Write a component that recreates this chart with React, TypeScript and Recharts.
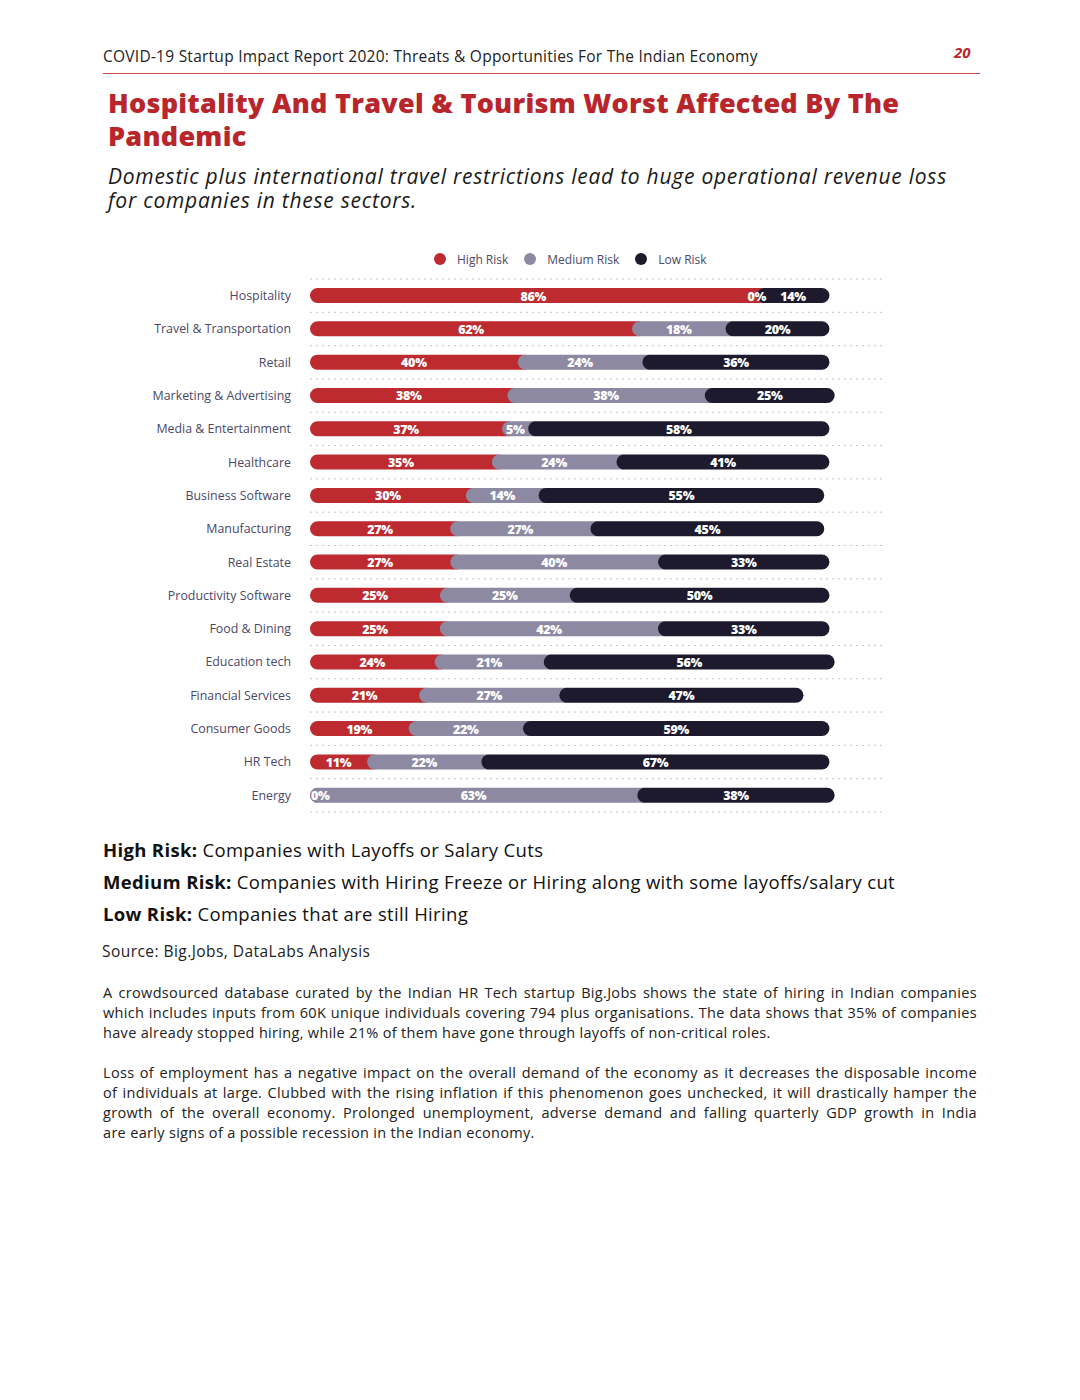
import React from 'react';
import { BarChart, Bar, XAxis, YAxis, CartesianGrid, Legend, LabelList } from 'recharts';

const categories = [
  'Hospitality', 'Travel & Transportation', 'Retail', 'Marketing & Advertising',
  'Media & Entertainment', 'Healthcare', 'Business Software', 'Manufacturing',
  'Real Estate', 'Productivity Software', 'Food & Dining', 'Education tech',
  'Financial Services', 'Consumer Goods', 'HR Tech', 'Energy',
];
const highRisk = [86, 62, 40, 38, 37, 35, 30, 27, 27, 25, 25, 24, 21, 19, 11, 0];
const mediumRisk = [0, 18, 24, 38, 5, 24, 14, 27, 40, 25, 42, 21, 27, 22, 22, 63];
const lowRisk = [14, 20, 36, 25, 58, 41, 55, 45, 33, 50, 33, 56, 47, 59, 67, 38];

const seriesNames = ['High Risk', 'Medium Risk', 'Low Risk'];
const seriesColors = ['#bd2a2f', '#8e89a2', '#1c1a2c'];

const data = categories.map((name, i) => ({
  name,
  high: highRisk[i],
  medium: mediumRisk[i],
  low: lowRisk[i],
}));

const FONT = '"Open Sans", Lato, sans-serif';

const makeShape = (isLast: boolean) => (props: any) => {
  const { x, y, width, height, fill } = props;
  if (x == null || y == null || height == null) return null;
  const r = height / 2;
  const L = x;
  if (isLast) {
    let R = x + (width || 0);
    if (R < L + 2 * r) R = L + 2 * r;
    const d = `M${L + r},${y} H${R - r} A${r},${r} 0 0 1 ${R - r},${y + height} H${L + r} A${r},${r} 0 0 1 ${L + r},${y} Z`;
    return <path d={d} fill={fill} />;
  }
  let R = x + (width || 0) + r;
  if (R < L + r) R = L + r;
  const d = `M${L + r},${y} H${R} V${y + height} H${L + r} A${r},${r} 0 0 1 ${L + r},${y} Z`;
  return <path d={d} fill={fill} />;
};

const makeLabel = (isFirst: boolean) => (props: any) => {
  const { x, y, width, height, value } = props;
  if (x == null) return null;
  const w = width || 0;
  const atStart = isFirst && w < 20;
  return (
    <text
      x={atStart ? x + 1 : x + w / 2}
      y={y + height / 2 + 0.5}
      fill="#ffffff"
      fontSize={12.5}
      fontWeight={800}
      fontFamily={FONT}
      textAnchor={atStart ? 'start' : 'middle'}
      dominantBaseline="central"
      letterSpacing={-0.3}
    >
      {`${value}%`}
    </text>
  );
};

const renderLegend = (props: any) => {
  const payload = [...(props.payload || [])].sort(
    (a: any, b: any) => seriesNames.indexOf(a.value) - seriesNames.indexOf(b.value)
  );
  return (
    <div style={{ height: 30, display: 'flex', alignItems: 'flex-start', paddingLeft: 334, fontFamily: FONT }}>
      {payload.map((p: any, i: number) => (
        <div key={i} style={{ display: 'flex', alignItems: 'center', height: 20, marginRight: 16 }}>
          <span style={{ display: 'inline-block', width: 12, height: 12, borderRadius: 6, background: p.color, marginRight: 11 }} />
          <span style={{ fontSize: 12, color: '#4b4867' }}>{p.value}</span>
        </div>
      ))}
    </div>
  );
};

const gridGenerator = (props: any) => {
  const { offset } = props;
  const n = categories.length;
  const out: number[] = [];
  for (let i = 0; i <= n; i++) out.push(offset.top + (i * offset.height) / n);
  return out;
};

const p1 = [
  'A crowdsourced database curated by the Indian HR Tech startup Big.Jobs shows the state of hiring in Indian companies',
  'which includes inputs from 60K unique individuals covering 794 plus organisations. The data shows that 35% of companies',
  'have already stopped hiring, while 21% of them have gone through layoffs of non-critical roles.',
];
const p2 = [
  'Loss of employment has a negative impact on the overall demand of the economy as it decreases the disposable income',
  'of individuals at large. Clubbed with the rising inflation if this phenomenon goes unchecked, it will drastically hamper the',
  'growth of the overall economy. Prolonged unemployment, adverse demand and falling quarterly GDP growth in India',
  'are early signs of a possible recession in the Indian economy.',
];

const Para = ({ lines, top }: { lines: string[]; top: number }) => (
  <div style={{ position: 'absolute', left: 103, top, width: 874, fontSize: 14.5, lineHeight: '20px', color: '#222', fontFamily: FONT, letterSpacing: 0.32 }}>
    {lines.map((l, i) => (
      <div
        key={i}
        style={{
          whiteSpace: 'nowrap',
          textAlign: i < lines.length - 1 ? 'justify' : 'left',
          textAlignLast: i < lines.length - 1 ? 'justify' : 'left',
        } as any}
      >
        {l}
      </div>
    ))}
  </div>
);

export default function App() {
  return (
    <div style={{ position: 'absolute', left: 0, top: 0, width: 1080, height: 1400, background: '#fff', fontFamily: FONT, color: '#222' }}>
      <div style={{ position: 'absolute', left: 103, top: 46, fontSize: 15.5, lineHeight: '20px', whiteSpace: 'nowrap', letterSpacing: 0.25 }}>
        COVID-19 Startup Impact Report 2020: Threats &amp; Opportunities For The Indian Economy
      </div>
      <div style={{ position: 'absolute', left: 954, top: 42, fontSize: 15, lineHeight: '20px', fontStyle: 'italic', fontWeight: 700, color: '#b8262c' }}>
        20
      </div>
      <div style={{ position: 'absolute', left: 103, top: 73, width: 877, height: 1, background: '#c8484c' }} />
      <div style={{ position: 'absolute', left: 108, top: 86, fontSize: 27, lineHeight: '33px', fontWeight: 800, color: '#b8262c', whiteSpace: 'nowrap', letterSpacing: 0.27 }}>
        <div>Hospitality And Travel &amp; Tourism Worst Affected By The</div>
        <div>Pandemic</div>
      </div>
      <div style={{ position: 'absolute', left: 108, top: 164, fontSize: 21, lineHeight: '24px', fontStyle: 'italic', color: '#1a1a1a', whiteSpace: 'nowrap', letterSpacing: 0.75 }}>
        <div>Domestic plus international travel restrictions lead to huge operational revenue loss</div>
        <div>for companies in these sectors.</div>
      </div>

      <div style={{ position: 'absolute', left: 100, top: 235 }}>
        <BarChart
          width={800}
          height={582}
          data={data}
          layout="vertical"
          margin={{ top: 14, right: 16, bottom: 5, left: 0 }}
          barSize={15}
        >
          <CartesianGrid
            horizontal
            vertical={false}
            stroke="#c4c4cc"
            strokeDasharray="2 4"
            horizontalCoordinatesGenerator={gridGenerator}
          />
          <XAxis type="number" domain={[0, 110.5]} hide />
          <YAxis
            type="category"
            dataKey="name"
            width={210}
            axisLine={false}
            tickLine={false}
            tickSize={0}
            tickMargin={19}
            tick={{ fontSize: 12.4, fill: '#4b4867', fontFamily: FONT }}
            interval={0}
          />
          <Legend verticalAlign="top" align="left" content={renderLegend} />
          <Bar dataKey="high" name={seriesNames[0]} stackId="a" fill={seriesColors[0]} isAnimationActive={false} shape={makeShape(false)}>
            <LabelList dataKey="high" content={makeLabel(true)} />
          </Bar>
          <Bar dataKey="medium" name={seriesNames[1]} stackId="a" fill={seriesColors[1]} isAnimationActive={false} shape={makeShape(false)}>
            <LabelList dataKey="medium" content={makeLabel(false)} />
          </Bar>
          <Bar dataKey="low" name={seriesNames[2]} stackId="a" fill={seriesColors[2]} isAnimationActive={false} shape={makeShape(true)}>
            <LabelList dataKey="low" content={makeLabel(false)} />
          </Bar>
        </BarChart>
      </div>

      <div style={{ position: 'absolute', left: 103, top: 834, fontSize: 18.5, lineHeight: '32px', color: '#111', whiteSpace: 'nowrap', letterSpacing: 0.33 }}>
        <div><b>High Risk:</b> Companies with Layoffs or Salary Cuts</div>
        <div><b>Medium Risk:</b> Companies with Hiring Freeze or Hiring along with some layoffs/salary cut</div>
        <div><b>Low Risk:</b> Companies that are still Hiring</div>
      </div>
      <div style={{ position: 'absolute', left: 102, top: 941, fontSize: 15.5, lineHeight: '20px', color: '#222', whiteSpace: 'nowrap', letterSpacing: 0.45 }}>
        Source: Big.Jobs, DataLabs Analysis
      </div>
      <Para lines={p1} top={983} />
      <Para lines={p2} top={1063} />
    </div>
  );
}
